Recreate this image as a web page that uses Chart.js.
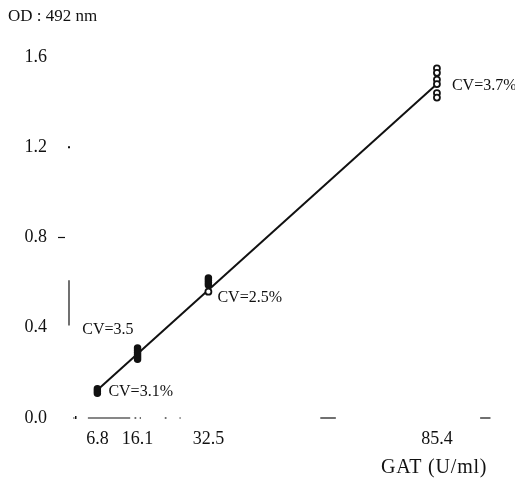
<!DOCTYPE html>
<html>
<head>
<meta charset="utf-8">
<script src="https://cdn.jsdelivr.net/npm/chart.js@4/dist/chart.umd.min.js"></script>
<style>
  html, body { margin: 0; padding: 0; background: #fff; }
  #wrap { width: 515px; height: 482px; position: relative; }
</style>
</head>
<body>
<div id="wrap"><canvas id="c" width="515" height="482"></canvas></div>
<script>
// ---- data ----
const concentrations = [6.8, 16.1, 32.5, 85.4];          // GAT (U/ml)
const od_6_8  = [0.13, 0.12, 0.11];
const od_16_1 = [0.31, 0.30, 0.29, 0.28, 0.27, 0.26];
const od_32_5 = [0.62, 0.61, 0.60, 0.59];
const od_32_5_open = [0.56];
const od_85_4 = [1.55, 1.53, 1.50, 1.48, 1.44, 1.42];
const fitX = [6.8, 85.4];
const fitY = [0.124, 1.48];
const yTicks = [0.0, 0.4, 0.8, 1.2, 1.6];
const xTicks = [6.8, 16.1, 32.5, 85.4];
const cvLabels = ['CV=3.1%', 'CV=3.5', 'CV=2.5%', 'CV=3.7%'];
const yTitle = 'OD : 492 nm';
const xTitle = 'GAT (U/ml)';

const SERIF = '"Liberation Serif", "DejaVu Serif", serif';
const INK = '#111';

function pts(x, ys) { return ys.map(y => ({ x: x, y: y })); }

const filled = pts(6.8, od_6_8).concat(pts(16.1, od_16_1), pts(32.5, od_32_5));
const open = pts(32.5, od_32_5_open).concat(pts(85.4, od_85_4));
const fit = fitX.map((x, i) => ({ x: x, y: fitY[i] }));

// label placement (pixel offsets from the mean of each replicate group)
const cvStyle = [
  { dx: 11, dy: 1, align: 'left' },
  { dx: -4, dy: -24, align: 'right' },
  { dx: 9, dy: 14, align: 'left' },
  { dx: 15, dy: 3, align: 'left' }
];
const groups = [od_6_8, od_16_1, od_32_5.concat(od_32_5_open), od_85_4];

// faint, broken axis fragments as in the scanned original (axis-value ranges)
const xAxisPieces = [[1.2, 1.5], [4.6, 14.4], [15.4, 15.8], [16.6, 16.9], [22.4, 22.8], [25.8, 26.1], [58.4, 62.0], [95.4, 97.8]];
const yAxisPieces = [[0.41, 0.61]];

const decor = {
  id: 'decor',
  afterDatasetsDraw(chart) {
    const { ctx, scales: { x, y } } = chart;
    ctx.save();
    // axis fragments
    ctx.strokeStyle = INK;
    ctx.lineWidth = 1.2;
    const yb = y.getPixelForValue(0);
    xAxisPieces.forEach(p => {
      ctx.beginPath();
      ctx.moveTo(x.getPixelForValue(p[0]), yb);
      ctx.lineTo(x.getPixelForValue(p[1]), yb);
      ctx.stroke();
    });
    const xl = x.getPixelForValue(0) + 1;
    yAxisPieces.forEach(p => {
      ctx.beginPath();
      ctx.moveTo(xl, y.getPixelForValue(p[0]));
      ctx.lineTo(xl, y.getPixelForValue(p[1]));
      ctx.stroke();
    });
    // tiny tick remnants at 0.8 and 1.2
    ctx.beginPath();
    ctx.moveTo(xl - 11, y.getPixelForValue(0.8));
    ctx.lineTo(xl - 4, y.getPixelForValue(0.8));
    ctx.stroke();
    ctx.fillStyle = INK;
    ctx.fillRect(xl - 1, y.getPixelForValue(1.2) - 1, 2, 2);
    ctx.fillRect(xl + 6, y.getPixelForValue(0) - 2, 1.5, 3);

    // CV labels
    ctx.fillStyle = INK;
    ctx.font = '16px ' + SERIF;
    ctx.textBaseline = 'middle';
    concentrations.forEach((c, i) => {
      const g = groups[i];
      const mean = g.reduce((a, b) => a + b, 0) / g.length;
      const px = x.getPixelForValue(c);
      const py = y.getPixelForValue(mean);
      const s = cvStyle[i];
      ctx.textAlign = s.align;
      ctx.fillText(cvLabels[i], px + s.dx, py + s.dy);
    });

    // axis titles
    ctx.textAlign = 'left';
    ctx.font = '17px ' + SERIF;
    ctx.fillText(yTitle, 8, 17);
    ctx.font = '20px ' + SERIF;
    try { ctx.letterSpacing = '0.8px'; } catch (e) {}
    ctx.fillText(xTitle, 381, 468);
    try { ctx.letterSpacing = '0px'; } catch (e) {}
    ctx.restore();
  }
};

new Chart(document.getElementById('c'), {
  type: 'scatter',
  data: {
    datasets: [
      {
        type: 'line',
        data: fit,
        borderColor: INK,
        borderWidth: 2,
        pointRadius: 0,
        fill: false,
        order: 2
      },
      {
        data: filled,
        pointRadius: 3,
        pointBorderWidth: 1.5,
        pointBackgroundColor: INK,
        pointBorderColor: INK,
        order: 1
      },
      {
        data: open,
        pointRadius: 3,
        pointBorderWidth: 1.8,
        pointBackgroundColor: '#fff',
        pointBorderColor: INK,
        order: 0
      }
    ]
  },
  options: {
    responsive: false,
    animation: false,
    layout: { padding: { top: 57, right: 15, bottom: 0, left: 0 } },
    plugins: { legend: { display: false }, tooltip: { enabled: false }, title: { display: false } },
    scales: {
      x: {
        type: 'linear',
        min: 0,
        max: 100,
        afterBuildTicks(scale) { scale.ticks = xTicks.map(v => ({ value: v })); },
        afterFit(scale) { scale.height = 64; },
        grid: { display: false, drawTicks: false },
        border: { display: false },
        ticks: {
          padding: 10,
          color: INK,
          font: { family: SERIF, size: 18 },
          maxRotation: 0,
          autoSkip: false,
          callback: v => String(v)
        }
      },
      y: {
        type: 'linear',
        min: 0,
        max: 1.6,
        afterBuildTicks(scale) { scale.ticks = yTicks.map(v => ({ value: v })); },
        afterFit(scale) { scale.width = 68; },
        grid: { display: false, drawTicks: false },
        border: { display: false },
        ticks: {
          padding: 21,
          color: INK,
          font: { family: SERIF, size: 18 },
          autoSkip: false,
          callback: v => Number(v).toFixed(1)
        }
      }
    }
  },
  plugins: [decor]
});
</script>
</body>
</html>
